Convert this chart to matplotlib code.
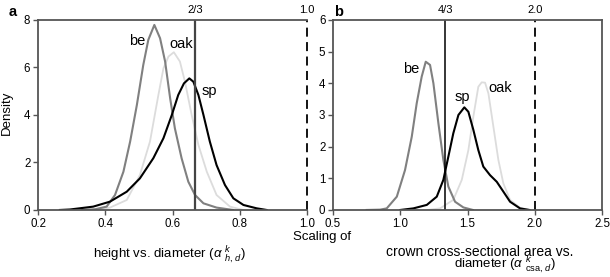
import matplotlib
matplotlib.use("Agg")
import matplotlib.pyplot as plt

plt.rcParams['font.family'] = ['Liberation Sans', 'DejaVu Sans']
plt.rcParams['mathtext.fontset'] = 'custom'
plt.rcParams['mathtext.rm'] = 'Liberation Sans'
plt.rcParams['mathtext.it'] = 'Liberation Sans:italic'

# panel a: height vs diameter
a_be_x = [0.33, 0.37, 0.404, 0.429, 0.454, 0.474, 0.494, 0.513, 0.528, 0.546, 0.563,
          0.578, 0.593, 0.607, 0.627, 0.647, 0.667, 0.692, 0.731, 0.78]
a_be_y = [0.0, 0.03, 0.14, 0.63, 1.61, 2.88, 4.42, 6.1, 7.16, 7.79, 7.23,
          6.25, 4.70, 3.44, 2.18, 1.19, 0.63, 0.28, 0.1, 0.0]
a_oak_x = [0.36, 0.414, 0.464, 0.503, 0.533, 0.558, 0.573, 0.588, 0.604, 0.622,
           0.637, 0.657, 0.677, 0.702, 0.731, 0.771, 0.81]
a_oak_y = [0.0, 0.1, 0.42, 1.47, 2.88, 4.84, 5.96, 6.46, 6.64, 6.25,
           5.4, 4.0, 2.74, 1.61, 0.63, 0.14, 0.0]
a_sp_x = [0.265, 0.295, 0.364, 0.414, 0.464, 0.503, 0.543, 0.573, 0.598, 0.617, 0.634,
          0.650, 0.662, 0.677, 0.692, 0.711, 0.731, 0.756, 0.781, 0.811, 0.85, 0.88]
a_sp_y = [0.0, 0.02, 0.14, 0.35, 0.77, 1.33, 2.18, 3.02, 4.0, 4.84, 5.33,
          5.54, 5.4, 4.84, 4.0, 2.88, 1.89, 1.05, 0.49, 0.21, 0.07, 0.0]

# panel b: crown cross-sectional area vs diameter
b_be_x = [0.75, 0.85, 0.899, 0.974, 1.035, 1.085, 1.122, 1.159, 1.189, 1.221,
          1.246, 1.283, 1.32, 1.357, 1.407, 1.469, 1.54]
b_be_y = [0.0, 0.01, 0.05, 0.42, 1.26, 2.31, 3.37, 4.21, 4.68, 4.58,
          4.0, 2.74, 1.58, 0.74, 0.26, 0.08, 0.0]
b_sp_x = [1.0, 1.097, 1.197, 1.271, 1.32, 1.357, 1.394, 1.432, 1.476, 1.506, 1.543,
          1.58, 1.617, 1.667, 1.717, 1.766, 1.816, 1.89, 1.96]
b_sp_y = [0.0, 0.05, 0.16, 0.42, 0.95, 1.68, 2.42, 3.0, 3.24, 3.1, 2.53,
          1.89, 1.37, 1.1, 0.89, 0.58, 0.26, 0.05, 0.0]
b_oak_x = [1.2, 1.296, 1.394, 1.457, 1.506, 1.543, 1.58, 1.605, 1.63, 1.655,
           1.692, 1.729, 1.766, 1.816, 1.89, 1.96]
b_oak_y = [0.0, 0.05, 0.32, 0.95, 1.89, 2.95, 3.89, 4.03, 4.02, 3.68,
           2.63, 1.58, 0.84, 0.32, 0.07, 0.0]

c_be = '#808080'
c_oak = '#dcdcdc'
c_sp = '#000000'
spine_c = '#555555'

fig = plt.figure(figsize=(6.1, 2.77), dpi=100)
ax1 = fig.add_axes([0.0623, 0.242, 0.441, 0.686])
ax2 = fig.add_axes([0.546, 0.242, 0.441, 0.686])

for ax in (ax1, ax2):
    for s in ax.spines.values():
        s.set_color(spine_c)
        s.set_linewidth(1.3)
    ax.tick_params(direction='out', length=3.5, width=1.0, color=spine_c,
                   labelsize=8.3, pad=2)

# panel a
ax1.plot(a_oak_x, a_oak_y, color=c_oak, lw=1.3)
ax1.plot(a_be_x, a_be_y, color=c_be, lw=1.5)
ax1.plot(a_sp_x, a_sp_y, color=c_sp, lw=1.5)
ax1.axvline(2/3, color='#444444', lw=1.6)
ax1.axvline(1.0, color='black', lw=1.3, ls=(0, (5, 3)), clip_on=False)
ax1.spines['right'].set_visible(False)
ax1.set_xlim(0.2, 1.0)
ax1.set_ylim(0, 8)
ax1.set_xticks([0.2, 0.4, 0.6, 0.8, 1.0])
ax1.set_xticklabels(['0.2', '0.4', '0.6', '0.8', '1.0'])
ax1.set_yticks([0, 2, 4, 6, 8])
ax1.text(0.495, 7.1, 'be', fontsize=10.5, ha='center', va='center')
ax1.text(0.625, 7.0, 'oak', fontsize=10.5, ha='center', va='center')
ax1.text(0.71, 5.0, 'sp', fontsize=10.5, ha='center', va='center')
ax1.text(2/3, 1.025, '2/3', fontsize=8, ha='center', va='bottom',
         transform=ax1.get_xaxis_transform())
ax1.text(1.0, 1.025, '1.0', fontsize=8, ha='center', va='bottom',
         transform=ax1.get_xaxis_transform())

# panel b
ax2.plot(b_oak_x, b_oak_y, color=c_oak, lw=1.3)
ax2.plot(b_be_x, b_be_y, color=c_be, lw=1.5)
ax2.plot(b_sp_x, b_sp_y, color=c_sp, lw=1.5)
ax2.axvline(4/3, color='black', lw=1.1)
ax2.axvline(2.0, color='black', lw=1.3, ls=(0, (5, 3)))
ax2.set_xlim(0.5, 2.5)
ax2.set_ylim(0, 6)
ax2.set_xticks([0.5, 1.0, 1.5, 2.0, 2.5])
ax2.set_xticklabels(['0.5', '1.0', '1.5', '2.0', '2.5'])
ax2.set_yticks([0, 1, 2, 3, 4, 5, 6])
ax2.text(1.08, 4.46, 'be', fontsize=10.5, ha='center', va='center')
ax2.text(1.46, 3.57, 'sp', fontsize=10.5, ha='center', va='center')
ax2.text(1.74, 3.84, 'oak', fontsize=10.5, ha='center', va='center')
ax2.text(4/3, 1.025, '4/3', fontsize=8, ha='center', va='bottom',
         transform=ax2.get_xaxis_transform())
ax2.text(2.0, 1.025, '2.0', fontsize=8, ha='center', va='bottom',
         transform=ax2.get_xaxis_transform())

W, H = 610, 277
fig.text(7 / W, 1 - 113 / H, 'Density', fontsize=9.5, rotation=90,
         ha='center', va='center')
fig.text(170 / W, 1 - 255 / H, r'height vs. diameter ($\alpha\ {}^{k}_{h,\,d}$)',
         fontsize=9.5, ha='center', va='center')
fig.text(480 / W, 1 - 256 / H, 'crown cross-sectional area vs.',
         fontsize=10, ha='center', va='baseline')
fig.text(505 / W, 1 - 269 / H, r'diameter ($\alpha\ {}^{k}_{\mathrm{csa},\,d}$)',
         fontsize=9.5, ha='center', va='baseline')
fig.text(322 / W, 1 - 237 / H, 'Scaling of', fontsize=9.5, ha='center', va='center')
fig.text(13 / W, 1 - 12 / H, 'a', fontsize=10.5, fontweight='bold', ha='center', va='center')
fig.text(339 / W, 1 - 12 / H, 'b', fontsize=10.5, fontweight='bold', ha='center', va='center')

fig.savefig('out.png', dpi=100)
